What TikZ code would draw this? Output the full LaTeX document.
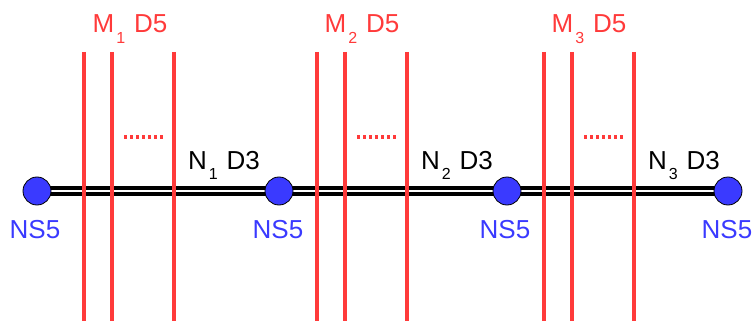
\documentclass[tikz,border=0pt]{standalone}
\usepackage{fontspec}
\setmainfont{Liberation Sans}
\usetikzlibrary{positioning, backgrounds}
\definecolor{dfivered}{RGB}{255,58,58}
\definecolor{nsblue}{RGB}{58,58,255}
\tikzset{
    ns/.style={circle, draw=black, line width=0.8pt, fill=nsblue, minimum size=28pt, inner sep=0pt}, % NS5 brane
    nslabel/.style={text=nsblue, inner sep=0pt, font=\fontsize{26}{26}\selectfont},
    dthree/.style={draw=black, line width=3.5pt, double=white, double distance=2.4pt}, % D3 branes
    dfive/.style={draw=dfivered, line width=3.2pt}, % D5 branes
    dotsline/.style={draw=dfivered, line width=4.5pt, dash pattern=on 2.5pt off 3.5pt},
    brlabel/.style={inner sep=0pt, anchor=base, font=\fontsize{26}{26}\selectfont},
}
\newcommand{\subs}[1]{\hspace{2pt}\raisebox{-0.42em}{\fontsize{16}{16}\selectfont #1}\hspace{9pt}}

\begin{document}
\begin{tikzpicture}[x=1pt, y=-1pt]
    \useasboundingbox (0,0) rectangle (753,321);

    \node[ns] (ns1) at (37,191) {};
    \node[ns] (ns2) at (279,191) {};
    \node[ns] (ns3) at (507,191) {};
    \node[ns] (ns4) at (728,191) {};

    \node[nslabel, below=15pt of ns1, xshift=-2pt] (l1) {NS5};
    \node[nslabel, below=15pt of ns2, xshift=-1pt] (l2) {NS5};
    \node[nslabel, below=15pt of ns3, xshift=-2pt] (l3) {NS5};
    \node[nslabel, below=15pt of ns4, xshift=-1pt] (l4) {NS5};

    \begin{scope}[on background layer]
        \path[dthree] (ns1.center) -- (ns2.center) -- (ns3.center) -- (ns4.center);
    \end{scope}

    % D5 stacks
    \foreach \b/\n in {84/1, 317/2, 544/3} {
        \foreach \dx in {0, 28, 90}
            \draw[dfive] (\b+\dx,52) -- (\b+\dx,321);
        \draw[dotsline] (\b+40,137) -- (\b+79,137);
    }

    \node[brlabel, text=dfivered] (m1) at (130,33) {M\subs{1}D5};
    \node[brlabel, text=dfivered] (m2) at (362,33) {M\subs{2}D5};
    \node[brlabel, text=dfivered] (m3) at (589,33) {M\subs{3}D5};

    \node[brlabel] (n1) at (224,169) {N\subs{1}D3};
    \node[brlabel] (n2) at (457,169) {N\subs{2}D3};
    \node[brlabel] (n3) at (684,169) {N\subs{3}D3};
\end{tikzpicture}
\end{document}
